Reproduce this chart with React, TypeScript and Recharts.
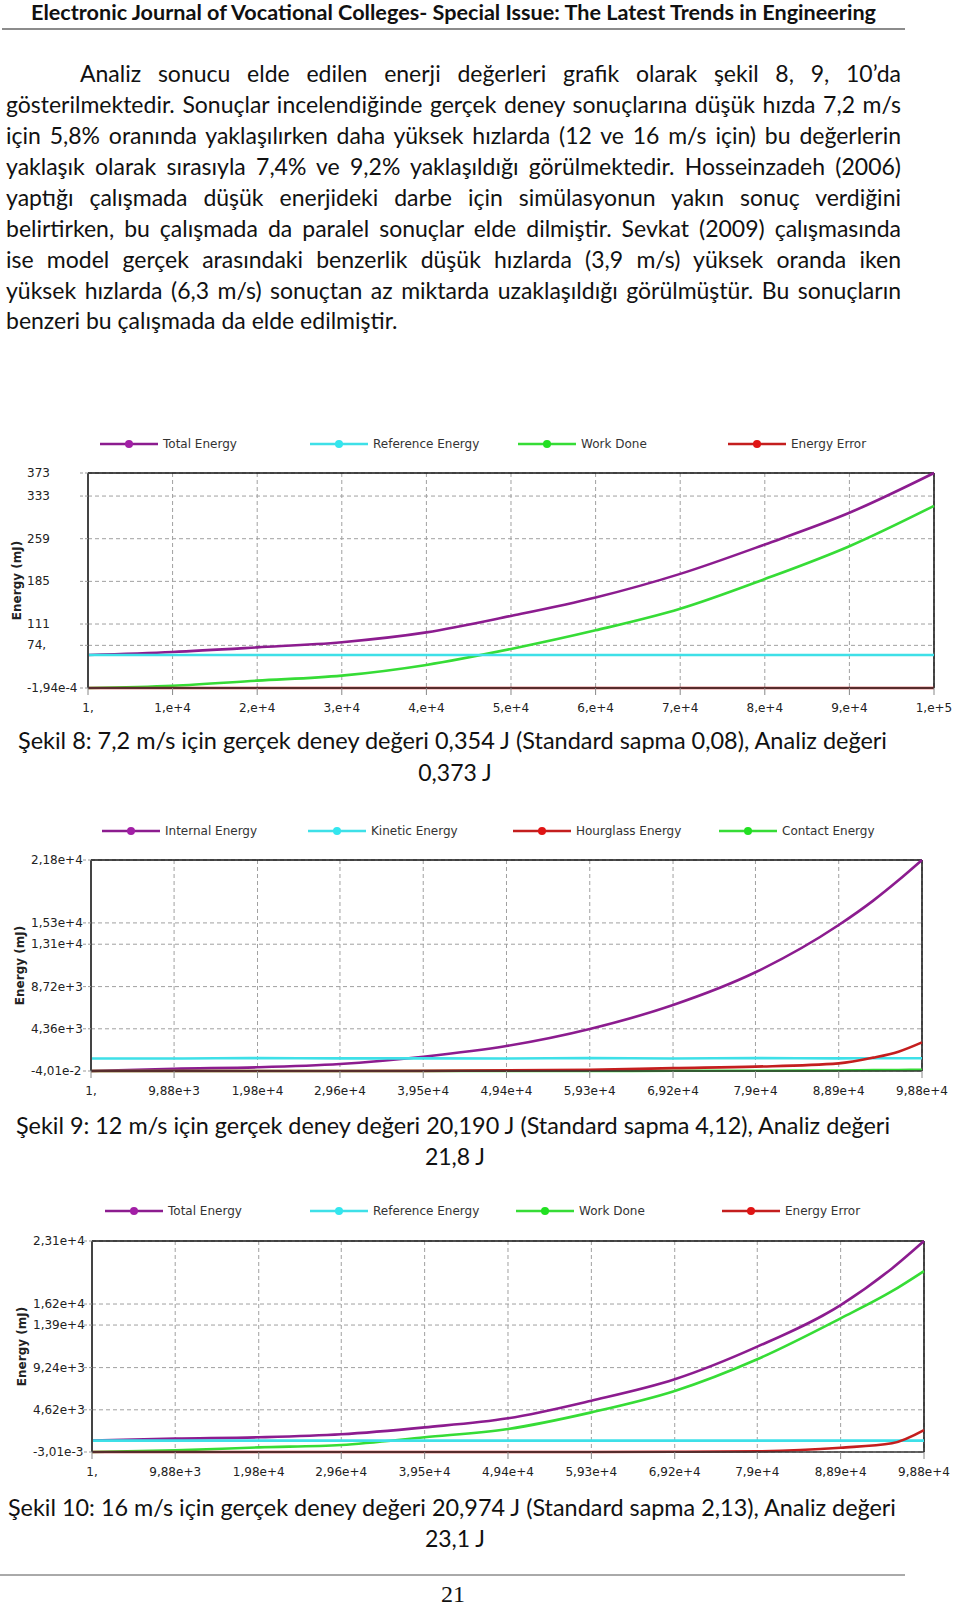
import React from 'react';
import { LineChart, Line, XAxis, YAxis, CartesianGrid, ReferenceLine } from 'recharts';

// ---------- page text ----------
const headerText = 'Electronic Journal of Vocational Colleges- Special Issue: The Latest Trends in Engineering';
const paragraphLines = [
  'Analiz sonucu elde edilen enerji değerleri grafik olarak şekil 8, 9, 10’da',
  'gösterilmektedir. Sonuçlar incelendiğinde gerçek deney sonuçlarına düşük hızda 7,2 m/s',
  'için 5,8% oranında yaklaşılırken daha yüksek hızlarda (12 ve 16 m/s için) bu değerlerin',
  'yaklaşık olarak sırasıyla 7,4% ve 9,2% yaklaşıldığı görülmektedir. Hosseinzadeh (2006)',
  'yaptığı çalışmada düşük enerjideki darbe için simülasyonun yakın sonuç verdiğini',
  'belirtirken, bu çalışmada da paralel sonuçlar elde dilmiştir. Sevkat (2009) çalışmasında',
  'ise model gerçek arasındaki benzerlik düşük hızlarda (3,9 m/s) yüksek oranda iken',
  'yüksek hızlarda (6,3 m/s) sonuçtan az miktarda uzaklaşıldığı görülmüştür. Bu sonuçların',
  'benzeri bu çalışmada da elde edilmiştir.',
];
const captionLines1 = [
  'Şekil 8: 7,2 m/s için gerçek deney değeri 0,354 J (Standard sapma 0,08), Analiz değeri',
  'Şekil 9: 12 m/s için gerçek deney değeri 20,190 J (Standard sapma 4,12), Analiz değeri',
  'Şekil 10: 16 m/s için gerçek deney değeri 20,974 J (Standard sapma 2,13), Analiz değeri',
];
const captionLines2 = ['0,373 J', '21,8 J', '23,1 J'];
const pageNumber = '21';
const yAxisTitle = 'Energy (mJ)';

// ---------- Figure 8 ----------
const fig8Time = [1, 10000, 20000, 30000, 40000, 50000, 60000, 70000, 80000, 90000, 100000];
const fig8Total = [57.3, 62.5, 70.5, 79.5, 96.5, 125, 157, 198, 249, 304, 373];
const fig8Reference = [57.3, 57.3, 57.3, 57.3, 57.3, 57.3, 57.3, 57.3, 57.3, 57.3, 57.3];
const fig8Work = [0, 4, 12.8, 21.5, 40, 67.7, 100, 137.5, 189, 246, 316];
const fig8Error = [0, 0, 0, 0, 0, 0, 0, 0, 0, 0, 0];
const fig8XTicks = [1, 10000, 20000, 30000, 40000, 50000, 60000, 70000, 80000, 90000, 100000];
const fig8XLabels = ['1,', '1,e+4', '2,e+4', '3,e+4', '4,e+4', '5,e+4', '6,e+4', '7,e+4', '8,e+4', '9,e+4', '1,e+5'];
const fig8YTicks = [-0.000194, 74, 111, 185, 259, 333, 373];
const fig8YLabels = ['-1,94e-4', '74,', '111', '185', '259', '333', '373'];

// ---------- Figure 9 ----------
const fig9Time = [1, 9880, 19800, 29600, 39500, 49400, 59300, 69200, 79000, 88900, 93000, 96000, 98800];
const fig9Internal = [0, 240, 380, 720, 1480, 2580, 4340, 6820, 10200, 15080, 17600, 19700, 21800];
const fig9Kinetic = [1290, 1290, 1330, 1300, 1300, 1290, 1330, 1290, 1330, 1300, 1320, 1320, 1310];
const fig9Hourglass = [0, 0, 0, 0, 10, 60, 120, 300, 450, 790, 1380, 2000, 2960];
const fig9Contact = [0, 0, 0, 0, 0, 10, 10, 20, 30, 50, 90, 110, 130];
const fig9XTicks = [1, 9880, 19800, 29600, 39500, 49400, 59300, 69200, 79000, 88900, 98800];
const fig9XLabels = ['1,', '9,88e+3', '1,98e+4', '2,96e+4', '3,95e+4', '4,94e+4', '5,93e+4', '6,92e+4', '7,9e+4', '8,89e+4', '9,88e+4'];
const fig9YTicks = [-0.0401, 4360, 8720, 13100, 15300, 21800];
const fig9YLabels = ['-4,01e-2', '4,36e+3', '8,72e+3', '1,31e+4', '1,53e+4', '2,18e+4'];

// ---------- Figure 10 ----------
const fig10Time = [1, 9880, 19800, 29600, 39500, 49400, 59300, 69200, 79000, 88900, 95000, 98800];
const fig10Total = [1240, 1460, 1610, 1940, 2700, 3690, 5620, 7960, 11530, 16090, 20100, 23100];
const fig10Reference = [1240, 1240, 1240, 1240, 1240, 1240, 1240, 1240, 1240, 1240, 1240, 1240];
const fig10Work = [0, 180, 510, 770, 1610, 2520, 4340, 6680, 10150, 14630, 17600, 19810];
const fig10Error = [0, 0, 0, 0, 0, 0, 0, 20, 80, 470, 950, 2400];
const fig10XTicks = fig9XTicks;
const fig10XLabels = fig9XLabels;
const fig10YTicks = [-0.00301, 4620, 9240, 13900, 16200, 23100];
const fig10YLabels = ['-3,01e-3', '4,62e+3', '9,24e+3', '1,39e+4', '1,62e+4', '2,31e+4'];

// ---------- styles ----------
const PURPLE = '#8C1C8F';
const CYAN = '#3EE0E8';
const GREEN = '#36DC36';
const RED = '#C41E1E';
const PURPLE_DOT = '#A21FA6';
const CYAN_DOT = '#33E6EE';
const GREEN_DOT = '#22E022';
const RED_DOT = '#E01414';
const chartFont = "Tahoma, 'DejaVu Sans', sans-serif";
const textFont = "Lato, 'Open Sans', sans-serif";

type Series = { key: string; name: string; color: string; dot: string; values: number[] };
type ChartCfg = {
  top: number;
  height: number;
  plotTop: number;
  plotBottom: number;
  plotLeft: number;
  plotRight: number;
  xs: number[];
  xTicks: number[];
  xLabels: string[];
  yTicks: number[];
  yLabels: string[];
  yLabelX: number;
  legend: Series[];
  drawOrder: Series[];
  legendY: number;
  legendXs: number[];
  titleX: number;
};

const s8Total: Series = { key: 'total', name: 'Total Energy', color: PURPLE, dot: PURPLE_DOT, values: fig8Total };
const s8Ref: Series = { key: 'ref', name: 'Reference Energy', color: CYAN, dot: CYAN_DOT, values: fig8Reference };
const s8Work: Series = { key: 'work', name: 'Work Done', color: GREEN, dot: GREEN_DOT, values: fig8Work };
const s8Err: Series = { key: 'err', name: 'Energy Error', color: RED, dot: RED_DOT, values: fig8Error };

const s9Int: Series = { key: 'internal', name: 'Internal Energy', color: PURPLE, dot: PURPLE_DOT, values: fig9Internal };
const s9Kin: Series = { key: 'kinetic', name: 'Kinetic Energy', color: CYAN, dot: CYAN_DOT, values: fig9Kinetic };
const s9Hour: Series = { key: 'hourglass', name: 'Hourglass Energy', color: RED, dot: RED_DOT, values: fig9Hourglass };
const s9Con: Series = { key: 'contact', name: 'Contact Energy', color: GREEN, dot: GREEN_DOT, values: fig9Contact };

const s10Total: Series = { key: 'total', name: 'Total Energy', color: PURPLE, dot: PURPLE_DOT, values: fig10Total };
const s10Ref: Series = { key: 'ref', name: 'Reference Energy', color: CYAN, dot: CYAN_DOT, values: fig10Reference };
const s10Work: Series = { key: 'work', name: 'Work Done', color: GREEN, dot: GREEN_DOT, values: fig10Work };
const s10Err: Series = { key: 'err', name: 'Energy Error', color: RED, dot: RED_DOT, values: fig10Error };

const charts: ChartCfg[] = [
  {
    top: 420, height: 300, plotTop: 473, plotBottom: 688, plotLeft: 88, plotRight: 934,
    xs: fig8Time, xTicks: fig8XTicks, xLabels: fig8XLabels, yTicks: fig8YTicks, yLabels: fig8YLabels, yLabelX: 27,
    legend: [s8Total, s8Ref, s8Work, s8Err], drawOrder: [s8Total, s8Work, s8Ref, s8Err],
    legendY: 444, legendXs: [100, 310, 518, 728], titleX: 17,
  },
  {
    top: 810, height: 300, plotTop: 860, plotBottom: 1071, plotLeft: 91, plotRight: 922,
    xs: fig9Time, xTicks: fig9XTicks, xLabels: fig9XLabels, yTicks: fig9YTicks, yLabels: fig9YLabels, yLabelX: 31,
    legend: [s9Int, s9Kin, s9Hour, s9Con], drawOrder: [s9Int, s9Con, s9Kin, s9Hour],
    legendY: 831, legendXs: [102, 308, 513, 719], titleX: 20,
  },
  {
    top: 1190, height: 300, plotTop: 1241, plotBottom: 1452, plotLeft: 92, plotRight: 924,
    xs: fig10Time, xTicks: fig10XTicks, xLabels: fig10XLabels, yTicks: fig10YTicks, yLabels: fig10YLabels, yLabelX: 33,
    legend: [s10Total, s10Ref, s10Work, s10Err], drawOrder: [s10Total, s10Work, s10Ref, s10Err],
    legendY: 1211, legendXs: [105, 310, 516, 722], titleX: 22,
  },
];

function EnergyChart({ c }: { c: ChartCfg }) {
  const data = c.xs.map((x, i) => {
    const row: Record<string, number> = { t: x };
    c.drawOrder.forEach((s) => {
      row[s.key] = s.values[i];
    });
    return row;
  });
  const xMin = c.xTicks[0];
  const xMax = c.xTicks[c.xTicks.length - 1];
  const yMin = c.yTicks[0];
  const yMax = c.yTicks[c.yTicks.length - 1];
  const xAxisHeight = c.top + c.height - c.plotBottom;
  const xLabelY = c.plotBottom - c.top + 20;
  return (
    <div style={{ position: 'absolute', left: 0, top: c.top, width: 960, height: c.height }}>
      <LineChart
        width={960}
        height={c.height}
        data={data}
        margin={{ top: c.plotTop - c.top, right: 960 - c.plotRight, bottom: 0, left: 0 }}
      >
        <CartesianGrid stroke="#a0a0a0" strokeDasharray="4 3" />
        <XAxis
          dataKey="t"
          type="number"
          scale="linear"
          domain={[xMin, xMax]}
          ticks={c.xTicks}
          interval={0}
          height={xAxisHeight}
          tickSize={7}
          axisLine={{ stroke: '#333', strokeWidth: 1.5 }}
          tickLine={{ stroke: '#888' }}
          tick={(p: any) => {
            const i = c.xTicks.indexOf(p.payload.value);
            return (
              <text x={p.x} y={xLabelY} textAnchor="middle" dominantBaseline="central" fontFamily={chartFont} fontSize={12} fill="#222">
                {c.xLabels[i]}
              </text>
            );
          }}
        />
        <YAxis
          type="number"
          domain={[yMin, yMax]}
          ticks={c.yTicks}
          interval={0}
          width={c.plotLeft}
          tickSize={8}
          axisLine={{ stroke: '#444', strokeWidth: 2 }}
          tickLine={{ stroke: '#999', strokeDasharray: '3 2' }}
          tick={(p: any) => {
            const i = c.yTicks.indexOf(p.payload.value);
            return (
              <text x={c.yLabelX} y={p.y} textAnchor="start" dominantBaseline="central" fontFamily={chartFont} fontSize={12} fill="#222">
                {c.yLabels[i]}
              </text>
            );
          }}
        />
        <ReferenceLine y={yMax} stroke="#111" strokeWidth={1.5} />
        <ReferenceLine x={xMax} stroke="#111" strokeWidth={1.5} />
        {c.drawOrder.map((s) => (
          <Line
            key={s.key}
            dataKey={s.key}
            type="monotone"
            stroke={s.color}
            strokeWidth={2.6}
            dot={false}
            activeDot={false}
            isAnimationActive={false}
          />
        ))}
      </LineChart>
    </div>
  );
}

function Overlay() {
  const captionBase = [
    [749, 781],
    [1134, 1165],
    [1516, 1547],
  ];
  const captionSpan = [
    [18, 869],
    [16, 874],
    [8, 888],
  ];
  return (
    <svg width={960} height={1606} style={{ position: 'absolute', left: 0, top: 0 }}>
      <text x={31} y={19.5} textLength={845} lengthAdjust="spacingAndGlyphs" fontFamily={textFont} fontWeight={700} fontSize={20} fill="#111">
        {headerText}
      </text>
      <line x1={2} y1={29} x2={905} y2={29} stroke="#666" strokeWidth={1.5} />
      {captionLines1.map((t, i) => (
        <g key={i}>
          <text x={captionSpan[i][0]} y={captionBase[i][0]} textLength={captionSpan[i][1]} lengthAdjust="spacingAndGlyphs" fontFamily={textFont} fontSize={23} fill="#111">
            {t}
          </text>
          <text x={455} y={captionBase[i][1]} textAnchor="middle" fontFamily={textFont} fontSize={23} fill="#111">
            {captionLines2[i]}
          </text>
        </g>
      ))}
      <line x1={0} y1={1575} x2={905} y2={1575} stroke="#555" strokeWidth={1} />
      <text x={453} y={1602} textAnchor="middle" fontFamily="'Liberation Serif', 'DejaVu Serif', serif" fontSize={24} fill="#111">
        {pageNumber}
      </text>
      {charts.map((c, ci) => (
        <g key={ci}>
          <text
            x={c.titleX}
            y={(c.plotTop + c.plotBottom) / 2}
            transform={`rotate(-90 ${c.titleX} ${(c.plotTop + c.plotBottom) / 2})`}
            textAnchor="middle"
            dominantBaseline="central"
            fontFamily={chartFont}
            fontWeight={700}
            fontSize={12}
            fill="#222"
          >
            {yAxisTitle}
          </text>
          {c.legend.map((s, i) => {
            const x0 = c.legendXs[i];
            return (
              <g key={s.key}>
                <line x1={x0} y1={c.legendY} x2={x0 + 58} y2={c.legendY} stroke={s.color} strokeWidth={2.5} />
                <circle cx={x0 + 29} cy={c.legendY} r={4} fill={s.dot} />
                <text x={x0 + 63} y={c.legendY} dominantBaseline="central" fontFamily={chartFont} fontSize={12} fill="#333">
                  {s.name}
                </text>
              </g>
            );
          })}
        </g>
      ))}
    </svg>
  );
}

export default function App() {
  const F = 23;
  return (
    <div style={{ position: 'absolute', left: 0, top: 0, width: 960, height: 1606, background: '#fff', overflow: 'hidden' }}>
      <Overlay />
      {paragraphLines.map((t, i) => {
        const last = i === paragraphLines.length - 1;
        const left = i === 0 ? 80 : 6;
        const baseline = 83 + 30.9 * i;
        return (
          <div
            key={i}
            style={{
              position: 'absolute',
              left,
              width: 901 - left,
              top: baseline - 0.987 * F,
              fontFamily: textFont,
              fontSize: F,
              lineHeight: `${1.2 * F}px`,
              color: '#111',
              textAlign: last ? 'left' : 'justify',
              textAlignLast: last ? 'left' : 'justify',
            } as React.CSSProperties}
          >
            {t}
          </div>
        );
      })}
      {charts.map((c, i) => (
        <EnergyChart key={i} c={c} />
      ))}
    </div>
  );
}
